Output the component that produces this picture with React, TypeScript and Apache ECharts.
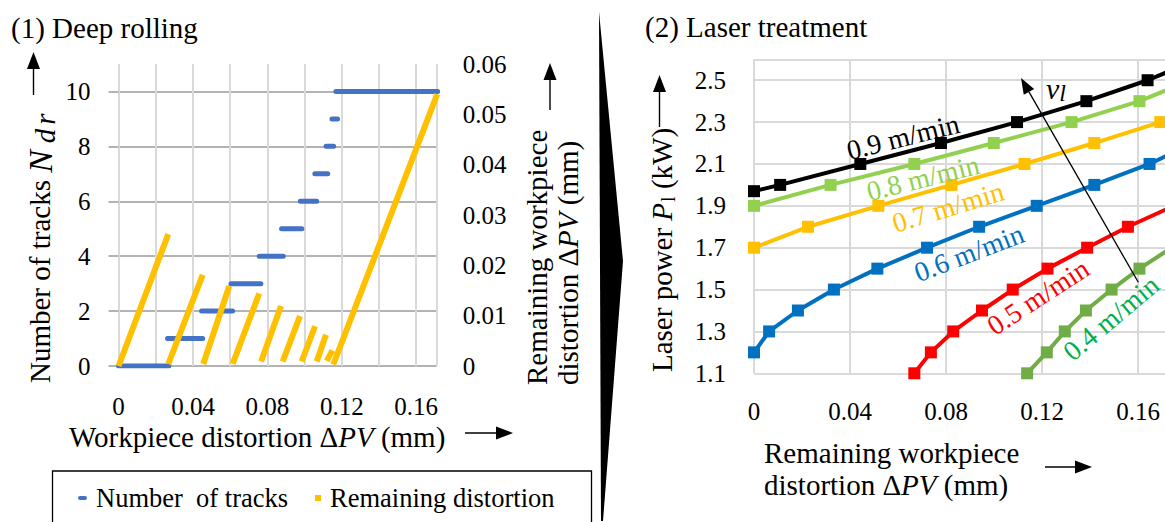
import React, { useEffect, useRef } from 'react';
import * as echarts from 'echarts';

const FONT = 'Liberation Serif, serif';

// ---------- Panel (1) Deep rolling ----------
const trackLevels = [0, 1, 2, 3, 4, 5, 6, 7, 8, 9, 10];
const trackStartX = [0, 0.0263, 0.0446, 0.0604, 0.0756, 0.0876, 0.0977, 0.1055, 0.1115, 0.1147, 0.1168];
const trackEndX = [0.027, 0.0452, 0.0613, 0.0765, 0.0885, 0.0985, 0.1065, 0.1124, 0.1156, 0.1177, 0.1715];

const remStartX = [0, 0.0267, 0.0455, 0.0613, 0.0766, 0.0882, 0.0984, 0.1065, 0.1119, 0.1154];
const remStartY = [0, 0.0004, 0.0004, 0.0004, 0.0009, 0.0009, 0.0009, 0.0009, 0.001, 0.0003];
const remEndX = [0.0267, 0.0452, 0.0595, 0.0756, 0.0873, 0.0975, 0.1056, 0.1115, 0.1149, 0.1713];
const remEndY = [0.0262, 0.0181, 0.0159, 0.0144, 0.0119, 0.0099, 0.0079, 0.0062, 0.0031, 0.054];

// ---------- Panel (2) Laser treatment ----------
const speedNames = ['0.9 m/min', '0.8 m/min', '0.7 m/min', '0.6 m/min', '0.5 m/min', '0.4 m/min'];
const v09X = [0, 0.0109, 0.0443, 0.0779, 0.1096, 0.1385, 0.164, 0.185];
const v09Y = [1.97, 2.0, 2.1, 2.2, 2.3, 2.4, 2.5, 2.6];
const v08X = [0, 0.0319, 0.0668, 0.0999, 0.1323, 0.1606, 0.182];
const v08Y = [1.9, 2.0, 2.1, 2.2, 2.3, 2.4, 2.5];
const v07X = [0, 0.0225, 0.0518, 0.0823, 0.1127, 0.1418, 0.1693, 0.197];
const v07Y = [1.7, 1.8, 1.9, 2.0, 2.1, 2.2, 2.3, 2.4];
const v06X = [0, 0.0063, 0.0183, 0.0333, 0.0514, 0.0721, 0.0938, 0.1178, 0.1418, 0.1648, 0.183];
const v06Y = [1.2, 1.3, 1.4, 1.5, 1.6, 1.7, 1.8, 1.9, 2.0, 2.1, 2.2];
const v05X = [0.0668, 0.0737, 0.083, 0.095, 0.1078, 0.1223, 0.1388, 0.1558, 0.175];
const v05Y = [1.1, 1.2, 1.3, 1.4, 1.5, 1.6, 1.7, 1.8, 1.9];
const v04X = [0.1138, 0.122, 0.1295, 0.1383, 0.149, 0.1606, 0.174];
const v04Y = [1.1, 1.2, 1.3, 1.4, 1.5, 1.6, 1.7];

const laserX = [v09X, v08X, v07X, v06X, v05X, v04X];
const laserY = [v09Y, v08Y, v07Y, v06Y, v05Y, v04Y];

// styles
const lineColors = ['#000000', '#92D050', '#FFC000', '#0070C0', '#FF0000', '#70AD47'];
const textColors = ['#000000', '#92D050', '#FFC000', '#0070C0', '#FF0000', '#00B050'];
const annoLayout = [
  { x: 903, y: 137, rot: 14 },
  { x: 923, y: 178, rot: 14 },
  { x: 948, y: 207, rot: 17 },
  { x: 969, y: 253, rot: 21 },
  { x: 1038, y: 297, rot: 33 },
  { x: 1111, y: 318, rot: 40 },
];

const txt = (size: number, extra: any = {}) => ({ fontFamily: FONT, fontSize: size, fill: '#000', ...extra });

function vArrow(x: number, yBottom: number, yTip: number) {
  return [
    { type: 'line', shape: { x1: x, y1: yBottom, x2: x, y2: yTip + 12 }, style: { stroke: '#000', lineWidth: 1.4 } },
    { type: 'polygon', shape: { points: [[x, yTip], [x - 6.5, yTip + 17], [x + 6.5, yTip + 17]] }, style: { fill: '#000' } },
  ];
}
function hArrow(xStart: number, xTip: number, y: number) {
  return [
    { type: 'line', shape: { x1: xStart, y1: y, x2: xTip - 12, y2: y }, style: { stroke: '#000', lineWidth: 1.4 } },
    { type: 'polygon', shape: { points: [[xTip, y], [xTip - 17, y - 6.5], [xTip - 17, y + 6.5]] }, style: { fill: '#000' } },
  ];
}

export default function App() {
  const ref = useRef<HTMLDivElement>(null);
  useEffect(() => {
    const chart = echarts.init(ref.current!, null, { renderer: 'svg' });

    const blueData: any[] = [];
    trackLevels.forEach((lv, i) => {
      blueData.push([trackStartX[i], lv], [trackEndX[i], lv], ['-', '-']);
    });
    const yellowData: any[] = [];
    remStartX.forEach((x0, i) => {
      yellowData.push([x0, remStartY[i]], [remEndX[i], remEndY[i]], ['-', '-']);
    });

    const labelStyle = { fontFamily: FONT, fontSize: 25, color: '#000' };
    const richBase = {
      i: { fontFamily: FONT, fontSize: 29, fontStyle: 'italic', color: '#000' },
      d: { fontFamily: FONT, fontSize: 29, color: '#000' },
    };

    // v_l arrow geometry
    const tip = [1021, 78];
    const tail = [1138.3, 282.3];
    const dx = tip[0] - tail[0], dy = tip[1] - tail[1];
    const L = Math.hypot(dx, dy);
    const ux = dx / L, uy = dy / L;
    const bx = tip[0] - 16 * ux, by = tip[1] - 16 * uy;
    const nx = -uy, ny = ux;

    const graphics: any[] = [
      // titles
      { type: 'text', x: 11, y: 28, style: { text: '(1) Deep rolling', ...txt(29), align: 'left', verticalAlign: 'middle' } },
      { type: 'text', x: 645, y: 27, style: { text: '(2) Laser treatment', ...txt(29), align: 'left', verticalAlign: 'middle' } },
      // divider
      { type: 'polygon', shape: { points: [[599, 12], [623, 261], [603, 521], [601, 521]] }, style: { fill: '#000' } },
      // left y title
      {
        type: 'group', x: 40, y: 383, rotation: Math.PI / 2,
        children: [{
          type: 'text', x: 0, y: 0,
          style: {
            text: 'Number of tracks {n|N}{s|d}{s|r}', ...txt(29), align: 'left', verticalAlign: 'middle',
            rich: {
              n: { fontFamily: FONT, fontSize: 34, fontStyle: 'italic', color: '#000', padding: [0, 3, 0, 0] },
              s: { fontFamily: FONT, fontSize: 29, fontStyle: 'italic', color: '#000', padding: [10, 0, 0, 4] },
            },
          },
        }],
      },
      ...vArrow(33.5, 95, 52),
      // right y title of left panel
      {
        type: 'group', x: 552, y: 385, rotation: Math.PI / 2,
        children: [
          { type: 'text', x: 0, y: -15.5, style: { text: 'Remaining workpiece', ...txt(29), align: 'left', verticalAlign: 'middle' } },
          { type: 'text', x: 0, y: 15.5, style: { text: 'distortion {d|Δ}{i|PV} (mm)', ...txt(29), align: 'left', verticalAlign: 'middle', rich: richBase } },
        ],
      },
      ...vArrow(550, 110, 63),
      // left x title
      { type: 'text', x: 69, y: 437, style: { text: 'Workpiece distortion {d|Δ}{i|PV} (mm)', ...txt(29), align: 'left', verticalAlign: 'middle', rich: richBase } },
      ...hArrow(465, 513, 433),
      // legend
      { type: 'rect', shape: { x: 52.5, y: 471, width: 539, height: 80 }, style: { fill: 'none', stroke: '#000', lineWidth: 1.3 } },
      { type: 'rect', shape: { x: 78, y: 496, width: 9, height: 4, r: 2 }, style: { fill: '#4472C4' } },
      { type: 'text', x: 96, y: 498, style: { text: 'Number  of tracks', ...txt(26.5), align: 'left', verticalAlign: 'middle' } },
      { type: 'rect', shape: { x: 315, y: 495, width: 6, height: 6 }, style: { fill: '#FFC000' } },
      { type: 'text', x: 330, y: 498, style: { text: 'Remaining distortion', ...txt(26.5), align: 'left', verticalAlign: 'middle' } },
      // right y title
      {
        type: 'group', x: 662, y: 372, rotation: Math.PI / 2,
        children: [{
          type: 'text', x: 0, y: 0,
          style: {
            text: 'Laser power {i|P}{s|l} (kW)', ...txt(29), align: 'left', verticalAlign: 'middle',
            rich: {
              i: { fontFamily: FONT, fontSize: 29, fontStyle: 'italic', color: '#000' },
              s: { fontFamily: FONT, fontSize: 20, color: '#000', padding: [12, 0, 0, 1] },
            },
          },
        }],
      },
      ...vArrow(659.5, 127, 75),
      // right x title
      { type: 'text', x: 764, y: 453, style: { text: 'Remaining workpiece', ...txt(29), align: 'left', verticalAlign: 'middle' } },
      { type: 'text', x: 764, y: 485, style: { text: 'distortion {d|Δ}{i|PV} (mm)', ...txt(29), align: 'left', verticalAlign: 'middle', rich: richBase } },
      ...hArrow(1045, 1092, 467),
      // v_l arrow
      { type: 'line', z: 50, shape: { x1: tail[0], y1: tail[1], x2: bx, y2: by }, style: { stroke: '#000', lineWidth: 1.3 } },
      { type: 'polygon', z: 50, shape: { points: [tip, [bx + 6 * nx, by + 6 * ny], [bx - 6 * nx, by - 6 * ny]] }, style: { fill: '#000' } },
      {
        type: 'text', z: 50, x: 1046, y: 88,
        style: {
          text: '{v|v}{s|l}', ...txt(30), align: 'left', verticalAlign: 'middle',
          rich: {
            v: { fontFamily: FONT, fontSize: 30, fontStyle: 'italic', color: '#000' },
            s: { fontFamily: FONT, fontSize: 24, fontStyle: 'italic', color: '#000', padding: [10, 0, 0, 0] },
          },
        },
      },
      // speed annotations
      ...speedNames.map((name, i) => ({
        type: 'text', z: 40, x: annoLayout[i].x, y: annoLayout[i].y, rotation: (annoLayout[i].rot * Math.PI) / 180,
        style: { text: name, ...txt(28), fill: textColors[i], align: 'center', verticalAlign: 'middle' },
      })),
    ];

    const laserSeries = speedNames.map((name, i) => ({
      name,
      type: 'line',
      xAxisIndex: 1,
      yAxisIndex: 2,
      data: laserX[i].map((x, k) => [x, laserY[i][k]]),
      symbol: 'rect',
      symbolSize: 12,
      showSymbol: true,
      lineStyle: { width: 4, color: lineColors[i] },
      itemStyle: { color: lineColors[i] },
      emphasis: { disabled: true },
      silent: true,
      z: 10 - i,
    }));

    const option: any = {
      animation: false,
      backgroundColor: '#fff',
      textStyle: { fontFamily: FONT },
      grid: [
        { left: 118.6, top: 64, width: 318.1, height: 302, outerBoundsMode: 'none', containLabel: false },
        { left: 754, top: 59.3, width: 480, height: 314, outerBoundsMode: 'none', containLabel: false },
      ],
      xAxis: [
        {
          type: 'value', gridIndex: 0, min: 0, max: 0.171, interval: 0.02,
          axisLine: { show: false }, axisTick: { show: false },
          splitLine: { show: true, lineStyle: { color: '#D9D9D9', width: 2 } },
          axisLabel: {
            ...labelStyle, margin: 28, showMaxLabel: false,
            formatter: (v: number) => {
              const k = Math.round(v / 0.02);
              if (Math.abs(v - k * 0.02) > 1e-7 || k % 2 !== 0) return '';
              return k === 0 ? '0' : v.toFixed(2);
            },
          },
        },
        {
          type: 'value', gridIndex: 1, min: 0, max: 0.2, interval: 0.04,
          axisLine: { show: false }, axisTick: { show: false },
          splitLine: { show: true, lineStyle: { color: '#D9D9D9', width: 2 } },
          axisLabel: { ...labelStyle, margin: 26, showMaxLabel: false, formatter: (v: number) => (v === 0 ? '0' : v.toFixed(2)) },
        },
      ],
      yAxis: [
        {
          type: 'value', gridIndex: 0, min: 0, max: 11, interval: 2,
          axisLine: { show: false },
          axisTick: { show: true, length: 10, lineStyle: { color: '#9A9A9A', width: 1.5 }, customValues: [0, 2, 4, 6, 8, 10] },
          splitLine: { show: true, lineStyle: { color: ['#9A9A9A', '#9A9A9A', '#9A9A9A', '#9A9A9A', '#9A9A9A', '#9A9A9A', '#D9D9D9'], width: 1.5 } },
          axisLabel: { ...labelStyle, margin: 28, showMaxLabel: false },
        },
        {
          type: 'value', gridIndex: 0, position: 'right', min: 0, max: 0.06, interval: 0.01,
          axisLine: { show: false }, axisTick: { show: false }, splitLine: { show: false },
          axisLabel: { ...labelStyle, margin: 26, formatter: (v: number) => (v === 0 ? '0' : v.toFixed(2)) },
        },
        {
          type: 'value', gridIndex: 1, min: 1.1, max: 2.6, interval: 0.2,
          axisLine: { show: false }, axisTick: { show: false },
          splitLine: { show: true, lineStyle: { color: '#D9D9D9', width: 2 } },
          axisLabel: { ...labelStyle, margin: 28, showMaxLabel: false, formatter: (v: number) => v.toFixed(1) },
        },
      ],
      series: [
        {
          name: 'Number  of tracks', type: 'line', xAxisIndex: 0, yAxisIndex: 0, data: blueData,
          symbol: 'none', connectNulls: false, silent: true,
          lineStyle: { width: 5, color: '#4472C4', cap: 'round' }, itemStyle: { color: '#4472C4' }, z: 3,
        },
        {
          name: 'Remaining distortion', type: 'line', xAxisIndex: 0, yAxisIndex: 1, data: yellowData,
          symbol: 'none', connectNulls: false, silent: true,
          lineStyle: { width: 6, color: '#FFC000', cap: 'butt' }, itemStyle: { color: '#FFC000' }, z: 4,
        },
        ...laserSeries,
      ],
      graphic: { elements: graphics },
    };

    chart.setOption(option);
    return () => chart.dispose();
  }, []);

  return <div ref={ref} style={{ position: 'absolute', left: 0, top: 0, width: 1165, height: 522, background: '#fff' }} />;
}
